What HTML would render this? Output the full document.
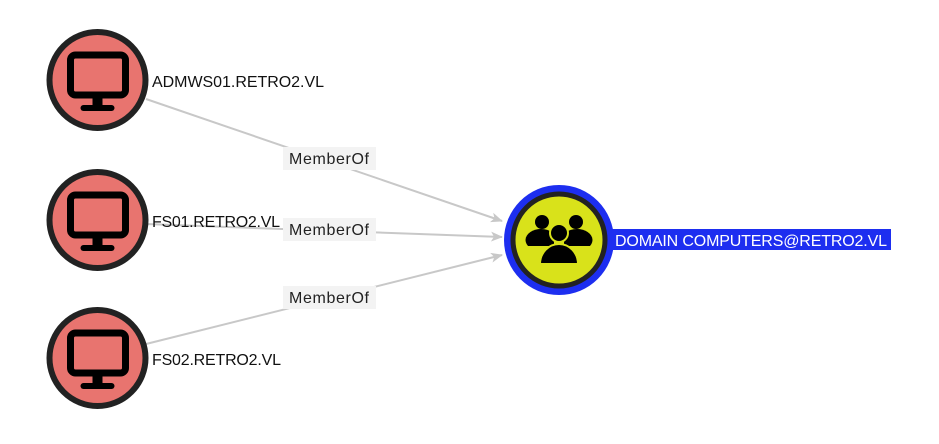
<!DOCTYPE html>
<html><head><style>body{margin:0;background:#fff}svg{display:block}</style></head><body>
<svg width="939" height="444" viewBox="0 0 939 444" xmlns="http://www.w3.org/2000/svg" font-family="Liberation Sans, sans-serif">
<defs>
<marker id="a" markerWidth="12" markerHeight="10" refX="11" refY="5" orient="auto" markerUnits="userSpaceOnUse"><path d="M0,0 L12,5 L0,10 L3,5z" fill="#c8c8c8"/></marker>
<g id="pc">
<circle r="48" fill="#e8746f" stroke="#222" stroke-width="6"/>
<rect x="-27" y="-25" width="55" height="40" rx="5" fill="#e8746f" stroke="#000" stroke-width="7"/>
<rect x="-5" y="18" width="10" height="8" fill="#000"/>
<rect x="-17" y="25" width="34" height="6" rx="3" fill="#000"/>
</g>
</defs>
<g stroke="#c8c8c8" stroke-width="2" fill="none" marker-end="url(#a)">
<line x1="146" y1="99" x2="502" y2="221"/>
<line x1="146" y1="224" x2="502" y2="237"/>
<line x1="146" y1="344" x2="502" y2="255"/>
</g>
<g font-size="16" fill="#222">
<rect x="283" y="147" width="93" height="23" fill="#f3f3f3"/><text x="289" y="164" textLength="80">MemberOf</text>
<rect x="283" y="218" width="93" height="23" fill="#f3f3f3"/><text x="289" y="235" textLength="80">MemberOf</text>
<rect x="283" y="286" width="93" height="23" fill="#f3f3f3"/><text x="289" y="303" textLength="80">MemberOf</text>
</g>
<use href="#pc" x="97.5" y="80"/>
<use href="#pc" x="97.5" y="220"/>
<use href="#pc" x="97.5" y="358"/>
<g font-size="16" fill="#111">
<text x="152" y="87" textLength="172">ADMWS01.RETRO2.VL</text>
<text x="152" y="227" textLength="128">FS01.RETRO2.VL</text>
<text x="152" y="365" textLength="129">FS02.RETRO2.VL</text>
</g>
<circle cx="559" cy="240" r="55" fill="#1d2ef0"/>
<circle cx="559" cy="240" r="46" fill="#d9e21a" stroke="#222" stroke-width="5"/>
<g fill="#000">
<circle cx="542" cy="222" r="7"/><circle cx="576" cy="222" r="7"/>
<path d="M528,246 a14,10 0 0 1 26,-12 v12z"/>
<path d="M590,246 a14,10 0 0 0 -26,-12 v12z"/>
<circle cx="559" cy="233" r="9" stroke="#d9e21a" stroke-width="2"/>
<path d="M540,264 a19,20 0 0 1 38,0z" stroke="#d9e21a" stroke-width="2"/>
</g>
<rect x="612" y="229" width="279" height="21" fill="#1d2ef0"/>
<text x="615" y="246" font-size="16" fill="#fff" textLength="272">DOMAIN COMPUTERS@RETRO2.VL</text>
</svg>
</body></html>
